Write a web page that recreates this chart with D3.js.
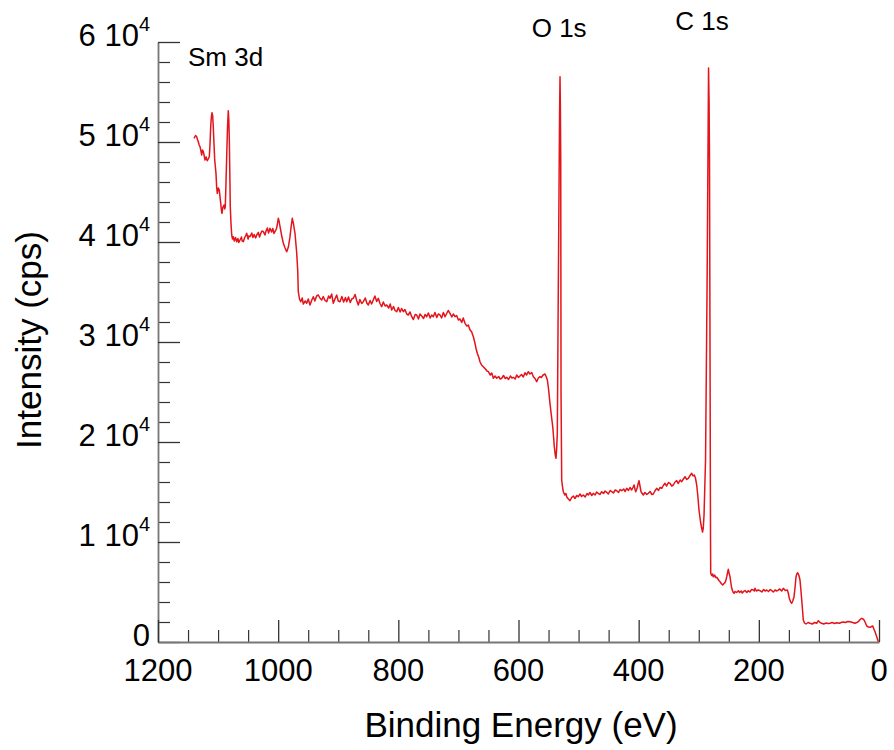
<!DOCTYPE html>
<html>
<head>
<meta charset="utf-8">
<script src="https://cdn.jsdelivr.net/npm/d3@7"></script>
<style>
  html, body { margin: 0; padding: 0; background: #ffffff; }
  svg { display: block; font-family: "Liberation Sans", Arial, Helvetica, sans-serif; }
</style>
</head>
<body>
<svg id="chart" width="894" height="750"></svg>
<script>
// XPS survey scan: [binding energy (eV), intensity (cps)], high to low binding energy
const surveyScan = [
  [1140.1,50370],[1137.5,50650],[1135.6,50530],[1134,50200],[1132.9,50030],[1131.5,49700],[1130.1,49530],
  [1128.5,49100],[1127.3,48700],[1126,49200],[1124.6,49030],[1123,48600],[1121.8,48200],[1120,48500],
  [1117.9,48130],[1116,48350],[1114.6,48530],[1113.4,49800],[1112.3,51530],[1111.2,52500],[1110.1,52930],
  [1109,52600],[1108,51530],[1106.8,49800],[1105.6,48200],[1103.5,46870],[1102.4,45500],[1101.3,44870],
  [1099.5,45400],[1098,45200],[1096.8,44500],[1095.6,43870],[1094.5,43200],[1093.5,42870],[1092,43500],
  [1090.1,43700],[1089,43300],[1088,43530],[1086.8,46000],[1085.7,48530],[1084.3,51500],[1083,53130],
  [1082.1,52200],[1081.3,50200],[1080.5,47000],[1079.7,43530],[1078.5,41800],[1077.3,40700],
  [1076,40300],[1074.7,40530],[1073,40100],[1071,40450],[1069,40030],[1067,40350],[1065.5,39950],
  [1063.5,40200],[1061,40500],[1060,40100],[1058,40030],[1056,40400],[1054,40650],[1052.4,40870],
  [1050,40300],[1049,40600],[1046.9,40530],[1044,40900],[1042,40450],[1040,40750],[1037.5,40400],
  [1035.7,40700],[1033,40950],[1031,40500],[1029,40850],[1027,41100],[1024.7,41030],[1022,40700],
  [1020,41150],[1018,41400],[1016,40900],[1013.6,41370],[1011,41000],[1009,41350],[1007,40850],
  [1005.3,41030],[1003,41300],[1001.5,41700],[999.8,42370],[998.5,42100],[996.9,41530],[994,40600],
  [991.4,39870],[988.5,39400],[985.8,39030],[983,39500],[980.3,40530],[978.5,41500],[976.5,42370],
  [974.5,41800],[972,40870],[969.1,38870],[967.5,37200],[966.5,35030],[964.5,34300],[962.5,34030],
  [960,34400],[958.2,33800],[955,34100],[952.5,33870],[950,34300],[947,33700],[944,34200],[941.5,34530],
  [939,34100],[936,34600],[933.2,34700],[930,34350],[927.5,34200],[925,34550],[922,34150],[919.2,34030],
  [916,34600],[913.7,34370],[911,34800],[908.2,33870],[905.5,34300],[902.6,34700],[900,34100],[897.1,34030],
  [894,34550],[891,34000],[888,34450],[885.9,34030],[883,34500],[880,33950],[877.5,34300],[874.9,34370],
  [872,34750],[869,34100],[866.6,33700],[864,34250],[861,33850],[858.3,34030],[855,34400],[852.5,33900],
  [850,33700],[847,34150],[844.5,33800],[841.7,34200],[839,34600],[836,34050],[833.3,34370],[830.5,33850],
  [827.7,33530],[825,34000],[822,33600],[819.3,33700],[816,33400],[813.5,33800],[811,33200],[808,33550],
  [805.5,33150],[802.7,33030],[800,33450],[797,33000],[794.5,33350],[791.7,33030],[789,33250],[786,32800],
  [783.4,32700],[780.5,33000],[777.7,32530],[775,32250],[772,32750],[769.4,32700],[766.5,32300],[764,32800],
  [761.1,32600],[758,32350],[755.5,32750],[752.8,32530],[750,32900],[747,32400],[744.5,32700],[741.8,32530],
  [739,32950],[736,32450],[733.5,32800],[730.6,32700],[728,32400],[725,32950],[722.3,32530],[719.5,32850],
  [717,33150],[714,32870],[711,32500],[708.5,32800],[705.7,32530],[703,32650],[700,32200],[697.4,32300],
  [694.5,31950],[692,32400],[689,31870],[686,31600],[683.5,31700],[681,31250],[677.9,31000],[675,30500],
  [672.4,29870],[670.5,29300],[668.6,28870],[666,28450],[664.1,28030],[661.5,27700],[658.6,27530],
  [655,27300],[652.5,27100],[650.2,27030],[647,26700],[644.5,26900],[641.9,26370],[639,26600],[636.3,26370],
  [633,26550],[630.5,26300],[627.9,26370],[625,26650],[622,26350],[619.6,26470],[616.5,26250],[613.5,26600],
  [611,26400],[608.6,26470],[605.5,26300],[603,26700],[600,26450],[597.5,26600],[595,26750],[592,26500],
  [589.2,26930],[586.5,26700],[583.7,27030],[581,26800],[578,26950],[575.3,26530],[572.5,26350],
  [569.7,26030],[567,26400],[564.2,26530],[562,26450],[559,26700],[555.9,26800],[554,26550],[552,26200],
  [550,25300],[547.6,23870],[545,22500],[543,21530],[541.5,20400],[540.4,19530],[538.8,18700],[537.6,18370],
  [536.5,19300],[535.4,20870],[534.2,31530],[532.6,44900],[531.6,53000],[530.9,56530],[530.3,53500],
  [529.7,48200],[529.2,24900],[528.1,16200],[526.5,15400],[525.4,15030],[523,14700],[521,14850],
  [519.8,14530],[517,14300],[514.3,14130],[511.5,14450],[508.8,14600],[506,14350],[503,14650],[500.5,14530],
  [497.5,14800],[495,14550],[492.1,14700],[489,14500],[486,14850],[483.8,14700],[481,14950],[478,14650],
  [475.5,14870],[472.5,14700],[470,15000],[467.2,14870],[464.5,14750],[461.5,15030],[458.5,14850],
  [456,15100],[453.2,14970],[450.5,14800],[447.5,15150],[444.9,15030],[442,14900],[439,15200],[436.5,15130],
  [433.5,14950],[431,15250],[428.2,15130],[425,15300],[422.5,15050],[419.9,15370],[417,15150],[414.5,15450],
  [411.6,15200],[409.5,15450],[407.7,15700],[406,15250],[404.9,15030],[402.5,15400],[401,15800],
  [399.4,16130],[397.5,15500],[396.1,15030],[394,14850],[392.3,14700],[389.5,14950],[386.5,14750],
  [383.9,14870],[381,15050],[378,14750],[375.6,14800],[373,15100],[370,15370],[367,15150],[364.5,15450],
  [361.6,15370],[359,15650],[356.2,15870],[353.5,15600],[350.5,15950],[347.8,15870],[345,15600],
  [342.3,15700],[339.5,16000],[336.7,16130],[334,15850],[331,16200],[328.4,16030],[325.5,16300],
  [322.9,16530],[320,16250],[317.4,16370],[314.5,16650],[311.7,16870],[309.5,16600],[307.4,16700],
  [305.5,16400],[303.4,15700],[301.5,14600],[299.6,13200],[297,12000],[295.5,11500],[293.7,11000],
  [292.5,11400],[291.2,12700],[288.7,18200],[286.2,35200],[284.5,50000],[283.7,57400],[282.8,54000],
  [282.1,48200],[281.2,28200],[280.4,10200],[280.1,6870],[278.5,6650],[277,6800],[275.8,6530],[273.5,6700],
  [272,6450],[270.1,6470],[268,6300],[266.5,6150],[264.6,6030],[262.5,5850],[260.1,5700],[258,5850],
  [256.3,5930],[254.5,6250],[253.4,6530],[251.8,7000],[250.8,7270],[249.5,6900],[248,6530],[246.5,5900],
  [245.1,5370],[243,5000],[241.3,4870],[239.5,5050],[237,4950],[234.1,5130],[232,4950],[229.5,5100],
  [227.5,4900],[225.8,5030],[223,5150],[220,4950],[217.5,5130],[215,5000],[212,5250],[209.2,5200],
  [207.5,5100],[206.4,5370],[204,5100],[201,5200],[198,5130],[195,5000],[192,5250],[189.5,5100],
  [186.9,5200],[184,5050],[181,5250],[178.5,5130],[176,5000],[173,5200],[170,5100],[167.6,5200],
  [165,5300],[162,5100],[159.2,5370],[156,5150],[152.6,5200],[151,4900],[149.3,4370],[147,4000],
  [145.3,3870],[143.5,4100],[141.4,4530],[139.5,5600],[138.1,6530],[136.5,6850],[135.3,6930],[133.5,6700],
  [131.5,6200],[130,5200],[128.6,4200],[127,3000],[126,2200],[124,1900],[121.5,1800],[118,1950],
  [114.8,1870],[111,1800],[107,1950],[103.7,1870],[101,2130],[98,1950],[95.3,1870],[92,1800],[88,1900],
  [85,1850],[81.5,1870],[78,1950],[74,1850],[70.4,1930],[66,1880],[63,1950],[59.4,2000],[56,1950],
  [52,2050],[48.2,2030],[44,1950],[40,1870],[37,1950],[34.4,2030],[31.5,2250],[28.8,2370],[26.5,2300],
  [24.9,2200],[22.5,1900],[20.4,1600],[17.5,1500],[14.9,1470],[12.5,1550],[10.4,1600],[8.5,1300],
  [6.6,1030],[3.8,530],[1.1,30]
];

// Axis ticks and labels
const xMajorTicks = [1200, 1000, 800, 600, 400, 200, 0];
const xTickLabels = ["1200", "1000", "800", "600", "400", "200", "0"];
const xMinorTicks = [1150, 1100, 1050, 950, 900, 850, 750, 700, 650, 550, 500, 450, 350, 300, 250, 150, 100, 50];
const yMajorTicks = [0, 10000, 20000, 30000, 40000, 50000, 60000];
const yTickMantissas = ["0", "1", "2", "3", "4", "5", "6"];
const yTickExponent = "4";
const yMinorTicks = [2000, 4000, 6000, 8000, 12000, 14000, 16000, 18000, 22000, 24000, 26000, 28000,
  32000, 34000, 36000, 38000, 42000, 44000, 46000, 48000, 52000, 54000, 56000, 58000];

// Peak assignments
const peakNames = ["Sm 3d", "O 1s", "C 1s"];

const svg = d3.select("#chart");

const x = d3.scaleLinear().domain([1200, 0]).range([158, 879]);
const y = d3.scaleLinear().domain([0, 60000]).range([642, 42]);

const axisColor = "#777777";
const tickColor = "#333333";

// Minor ticks
svg.append("g")
  .attr("transform", `translate(${x.range()[0]},0)`)
  .call(d3.axisLeft(y).tickValues(yMinorTicks).tickSize(-12).tickFormat(""))
  .call(g => g.select(".domain").remove())
  .call(g => g.selectAll(".tick line").attr("stroke", tickColor).attr("stroke-width", 1.2));
svg.append("g")
  .attr("transform", `translate(0,${y.range()[0]})`)
  .call(d3.axisBottom(x).tickValues(xMinorTicks).tickSize(-12).tickFormat(""))
  .call(g => g.select(".domain").remove())
  .call(g => g.selectAll(".tick line").attr("stroke", tickColor).attr("stroke-width", 1.2));

// Major ticks + axis lines
svg.append("g")
  .attr("transform", `translate(${x.range()[0]},0)`)
  .call(d3.axisLeft(y).tickValues(yMajorTicks).tickSize(-22).tickSizeOuter(0).tickFormat(""))
  .call(g => g.select(".domain").attr("stroke", axisColor).attr("stroke-width", 1.8))
  .call(g => g.selectAll(".tick line").attr("stroke", tickColor).attr("stroke-width", 1.3));
svg.append("g")
  .attr("transform", `translate(0,${y.range()[0]})`)
  .call(d3.axisBottom(x).tickValues(xMajorTicks).tickSize(-22).tickSizeOuter(0).tickFormat(""))
  .call(g => g.select(".domain").attr("stroke", axisColor).attr("stroke-width", 1.8))
  .call(g => g.selectAll(".tick line").attr("stroke", tickColor).attr("stroke-width", 1.3));

// X tick labels
svg.append("g").selectAll("text")
  .data(xMajorTicks)
  .join("text")
  .attr("x", d => x(d))
  .attr("y", 681)
  .attr("text-anchor", "middle")
  .attr("font-size", 31)
  .attr("fill", "#000")
  .text((d, i) => xTickLabels[i]);

// Y tick labels in "n 10^4" notation
const yLabels = svg.append("g").selectAll("text")
  .data(yMajorTicks)
  .join("text")
  .attr("x", 150)
  .attr("y", d => y(d) + 4)
  .attr("text-anchor", "end")
  .attr("font-size", 31)
  .attr("fill", "#000");
yLabels.each(function (d, i) {
  const t = d3.select(this);
  if (d === 0) {
    t.text(yTickMantissas[i]);
  } else {
    t.append("tspan").text(yTickMantissas[i] + " 10");
    t.append("tspan").attr("dy", -15).attr("font-size", 20).text(yTickExponent);
  }
});

// Axis titles
svg.append("text")
  .attr("x", 521)
  .attr("y", 737)
  .attr("text-anchor", "middle")
  .attr("font-size", 35)
  .attr("fill", "#000")
  .text("Binding Energy (eV)");
svg.append("text")
  .attr("transform", "translate(41,340) rotate(-90)")
  .attr("text-anchor", "middle")
  .attr("font-size", 35)
  .attr("fill", "#000")
  .text("Intensity (cps)");

// Spectrum
const line = d3.line()
  .x(d => x(d[0]))
  .y(d => y(d[1]));
svg.append("path")
  .datum(surveyScan)
  .attr("fill", "none")
  .attr("stroke", "#e3141b")
  .attr("stroke-width", 1.5)
  .attr("stroke-linejoin", "round")
  .attr("d", line);

// Peak annotations
const annotationSpots = [
  { be: 1150, base: 66 },
  { be: 578, base: 37 },
  { be: 339, base: 30 }
];
svg.append("g").selectAll("text")
  .data(peakNames)
  .join("text")
  .attr("x", (d, i) => x(annotationSpots[i].be))
  .attr("y", (d, i) => annotationSpots[i].base)
  .attr("font-size", 26)
  .attr("fill", "#000")
  .text(d => d);
</script>
</body>
</html>
